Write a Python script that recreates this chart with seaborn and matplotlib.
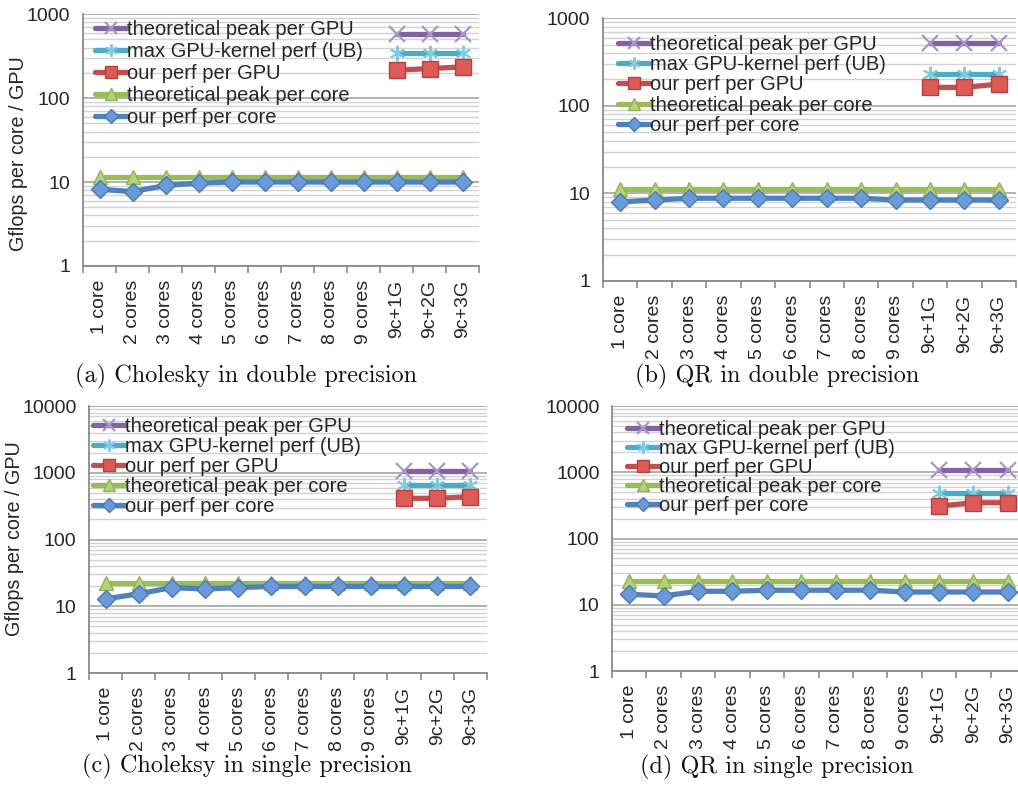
import numpy as np
import matplotlib
matplotlib.use("Agg")
import matplotlib.pyplot as plt
from matplotlib.ticker import LogLocator, FuncFormatter, NullFormatter
import seaborn as sns

# ── data (Gflops) ────────────────────────────────────────────────────────────
configs = ["1 core", "2 cores", "3 cores", "4 cores", "5 cores", "6 cores",
           "7 cores", "8 cores", "9 cores", "9c+1G", "9c+2G", "9c+3G"]
gpu_configs = ["9c+1G", "9c+2G", "9c+3G"]

series_labels = ["theoretical peak per GPU", "max GPU-kernel perf (UB)",
                 "our perf per GPU", "theoretical peak per core",
                 "our perf per core"]

# (a) Cholesky, double precision
chol_d_gpu_peak = [580, 580, 580]
chol_d_gpu_ub = [340, 340, 340]
chol_d_gpu_perf = [215, 225, 235]
chol_d_core_peak = [11.5, 11.5, 11.5, 11.5, 11.5, 11.5, 11.5, 11.5, 11.5, 11.5, 11.5, 11.5]
chol_d_core_perf = [8.2, 7.7, 9.1, 9.7, 10.0, 10.0, 10.0, 10.0, 10.0, 10.0, 10.0, 10.0]

# (b) QR, double precision
qr_d_gpu_peak = [524, 524, 524]
qr_d_gpu_ub = [230, 230, 230]
qr_d_gpu_perf = [162, 162, 177]
qr_d_core_peak = [11.1, 11.1, 11.1, 11.1, 11.1, 11.1, 11.1, 11.1, 11.1, 11.1, 11.1, 11.1]
qr_d_core_perf = [8.0, 8.4, 8.8, 8.8, 8.8, 8.8, 8.8, 8.8, 8.4, 8.4, 8.4, 8.4]

# (c) Cholesky, single precision
chol_s_gpu_peak = [1065, 1065, 1065]
chol_s_gpu_ub = [658, 658, 658]
chol_s_gpu_perf = [415, 415, 440]
chol_s_core_peak = [22.7, 22.7, 22.7, 22.7, 22.7, 22.7, 22.7, 22.7, 22.7, 22.7, 22.7, 22.7]
chol_s_core_perf = [12.9, 15.4, 19.1, 18.1, 19.1, 19.8, 19.8, 19.8, 19.8, 19.8, 19.8, 19.8]

# (d) QR, single precision
qr_s_gpu_peak = [1078, 1078, 1078]
qr_s_gpu_ub = [490, 490, 490]
qr_s_gpu_perf = [309, 347, 347]
qr_s_core_peak = [22.9, 22.9, 22.9, 22.9, 22.9, 22.9, 22.9, 22.9, 22.9, 22.9, 22.9, 22.9]
qr_s_core_perf = [14.4, 13.6, 16.0, 16.0, 16.6, 16.6, 16.6, 16.6, 15.6, 15.6, 15.6, 15.6]

# ── style ────────────────────────────────────────────────────────────────────
sns.set_theme(style="white")
plt.rcParams['font.family'] = ['Liberation Sans', 'DejaVu Sans']

PURPLE, CYAN, RED, GREEN, BLUE = '#8064A2', '#4BACC6', '#C0504D', '#9BBB59', '#4F81BD'
W, H = 1018, 785
LW = 3.8


def px_axes(fig, left, right, top, bottom):
    return fig.add_axes([left / W, 1 - bottom / H, (right - left) / W, (bottom - top) / H])


def draw_panel(ax, gpu_peak, gpu_ub, gpu_perf, core_peak, core_perf, ymax,
               leg_xy, leg_spacing, ylabel=None, ylabel_xy=None):
    x_all = np.arange(len(configs))
    x_gpu = x_all[len(configs) - len(gpu_configs):]

    sns.lineplot(x=x_gpu, y=gpu_peak, ax=ax, color=PURPLE, lw=LW, marker='x',
                 ms=11, mew=1.6, mec='#A995C6', label=series_labels[0], zorder=3)
    sns.lineplot(x=x_gpu, y=gpu_ub, ax=ax, color=CYAN, lw=LW, marker=(6, 2, 0),
                 ms=11, mew=1.4, mec='#7FCBDD', label=series_labels[1], zorder=3)
    sns.lineplot(x=x_gpu, y=gpu_perf, ax=ax, color=RED, lw=LW, marker='s',
                 ms=11.5, mfc='#DD5A57', mec='#B5413E', mew=1.0,
                 label=series_labels[2], zorder=4)
    sns.lineplot(x=x_all, y=core_peak, ax=ax, color=GREEN, lw=LW, marker='^',
                 ms=10.5, mfc='#B5D27A', mec='#93B352', mew=1.0,
                 label=series_labels[3], zorder=3)
    sns.lineplot(x=x_all, y=core_perf, ax=ax, color=BLUE, lw=LW, marker='D',
                 ms=9, mfc='#6A9BD8', mec='#4A7AB5', mew=1.0,
                 label=series_labels[4], zorder=4)

    ax.set_yscale('log')
    ax.set_ylim(1, ymax * 1.004)
    ax.set_xlim(-0.5, len(configs) - 0.5)
    ax.yaxis.set_major_locator(LogLocator(base=10))
    ax.yaxis.set_minor_locator(LogLocator(base=10, subs=np.arange(2, 10)))
    ax.yaxis.set_major_formatter(FuncFormatter(lambda v, p: f"{v:g}"))
    ax.yaxis.set_minor_formatter(NullFormatter())
    ax.grid(which='major', axis='y', color='#9c9c9c', lw=1.1)
    ax.grid(which='minor', axis='y', color='#d2d2d2', lw=1.0)
    ax.grid(which='both', axis='x', visible=False)

    ax.set_xticks(x_all)
    ax.set_xticklabels(configs, rotation=90)
    ax.set_xticks(np.arange(-0.5, len(configs), 1), minor=True)
    ax.tick_params(axis='x', which='major', length=0, pad=10, labelsize=14)
    ax.tick_params(axis='x', which='minor', length=5, width=1.2,
                   color='#8a8a8a', direction='out', bottom=True)
    ax.tick_params(axis='y', which='both', length=0, pad=9, labelsize=14)

    for side in ('top', 'right'):
        ax.spines[side].set_visible(False)
    for side in ('left', 'bottom'):
        ax.spines[side].set_color('#8a8a8a')
        ax.spines[side].set_linewidth(1.3)

    handles, labels = ax.get_legend_handles_labels()
    ax.legend(handles, labels, loc='upper left', bbox_to_anchor=leg_xy,
              frameon=False, fontsize=14.5, handlelength=1.6, handletextpad=0,
              borderpad=0, borderaxespad=0, labelspacing=leg_spacing,
              markerscale=0.8)

    if ylabel:
        ax.set_ylabel(ylabel, fontsize=14.2)
        ax.yaxis.set_label_coords(*ylabel_xy)
    else:
        ax.set_ylabel('')
    ax.set_xlabel('')


fig = plt.figure(figsize=(W / 100, H / 100), dpi=100)
fig.patch.set_facecolor('white')

ax_a = px_axes(fig, 83, 479, 14, 266)
ax_b = px_axes(fig, 603, 1016, 18, 281)
ax_c = px_axes(fig, 89, 487, 406, 673)
ax_d = px_axes(fig, 612, 1025, 406, 671)

draw_panel(ax_a, chol_d_gpu_peak, chol_d_gpu_ub, chol_d_gpu_perf,
           chol_d_core_peak, chol_d_core_perf, 1000, (0.03, 0.975), 0.15,
           ylabel="Gflops per core / GPU", ylabel_xy=(-0.139, 0.444))
draw_panel(ax_b, qr_d_gpu_peak, qr_d_gpu_ub, qr_d_gpu_perf,
           qr_d_core_peak, qr_d_core_perf, 1000, (0.036, 0.937), 0.07)
draw_panel(ax_c, chol_s_gpu_peak, chol_s_gpu_ub, chol_s_gpu_perf,
           chol_s_core_peak, chol_s_core_perf, 10000, (0.01, 0.96), 0.05,
           ylabel="Gflops per core / GPU", ylabel_xy=(-0.163, 0.502))
draw_panel(ax_d, qr_s_gpu_peak, qr_s_gpu_ub, qr_s_gpu_perf,
           qr_s_core_peak, qr_s_core_perf, 10000, (0.036, 0.948), 0.0)

captions = [("(a) Cholesky in double precision", 246, 376),
            ("(b) QR in double precision", 777, 376),
            ("(c) Choleksy in single precision", 247, 766),
            ("(d) QR in single precision", 777, 767)]
for text, cx, cy in captions:
    fig.text(cx / W, 1 - cy / H, text, ha='center', va='center',
             fontsize=17.5, family='cmr10', color='#111111')

fig.savefig('out.png', dpi=100, facecolor='white')
